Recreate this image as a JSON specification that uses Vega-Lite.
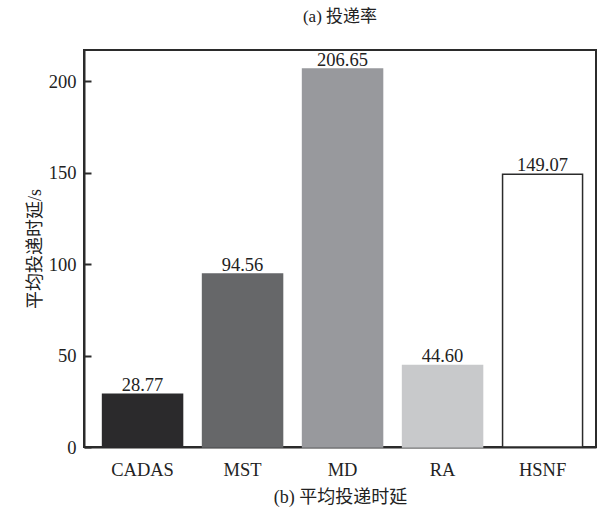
{
  "$schema": "https://vega.github.io/schema/vega-lite/v6.json",
  "autosize": {"type": "none"},
  "padding": {"left": 84, "top": 50, "right": 1, "bottom": 63},
  "width": 512,
  "height": 397,
  "background": "white",
  "title": {
    "text": "(a) 投递率",
    "font": "Liberation Serif, Noto Sans CJK SC",
    "fontSize": 17,
    "fontWeight": "normal",
    "color": "#222222",
    "anchor": "middle",
    "offset": 24
  },
  "config": {
    "view": {"stroke": "#2b2b2b", "strokeWidth": 2},
    "axis": {
      "labelFont": "Liberation Serif",
      "titleFont": "Liberation Serif, Noto Sans CJK SC",
      "labelColor": "#222222",
      "titleColor": "#222222",
      "titleFontWeight": "normal",
      "grid": false,
      "domainColor": "#2b2b2b",
      "domainWidth": 2
    }
  },
  "data": {
    "values": [
      {"method": "CADAS", "delay": 28.77},
      {"method": "MST", "delay": 94.56},
      {"method": "MD", "delay": 206.65},
      {"method": "RA", "delay": 44.60},
      {"method": "HSNF", "delay": 149.07}
    ]
  },
  "encoding": {
    "x": {
      "field": "method",
      "type": "nominal",
      "sort": ["CADAS", "MST", "MD", "RA", "HSNF"],
      "scale": {"paddingInner": 0.2, "paddingOuter": 0.16, "align": 0.58},
      "axis": {
        "title": "(b) 平均投递时延",
        "titleFontSize": 18,
        "titlePadding": 10,
        "labelFontSize": 18.5,
        "labelAngle": 0,
        "labelPadding": 13,
        "ticks": false
      }
    },
    "y": {
      "field": "delay",
      "type": "quantitative",
      "scale": {"domain": [0, 217], "nice": false},
      "axis": {
        "title": "平均投递时延/s",
        "titleFontSize": 18,
        "titlePadding": 4,
        "labelFontSize": 18.5,
        "values": [0, 50, 100, 150, 200],
        "tickSize": -7,
        "tickWidth": 2,
        "tickColor": "#2b2b2b",
        "labelPadding": 15
      }
    }
  },
  "layer": [
    {
      "mark": {"type": "bar", "strokeWidth": 1.5},
      "encoding": {
        "color": {
          "field": "method",
          "type": "nominal",
          "scale": {
            "domain": ["CADAS", "MST", "MD", "RA", "HSNF"],
            "range": ["#2b2a2c", "#666769", "#98999d", "#c8c9cb", "#ffffff"]
          },
          "legend": null
        },
        "stroke": {
          "field": "method",
          "type": "nominal",
          "scale": {
            "domain": ["CADAS", "MST", "MD", "RA", "HSNF"],
            "range": ["#2b2a2c", "#666769", "#98999d", "#c8c9cb", "#2b2b2b"]
          },
          "legend": null
        }
      }
    },
    {
      "mark": {
        "type": "text",
        "font": "Liberation Serif",
        "fontSize": 18.5,
        "color": "#222222",
        "baseline": "alphabetic",
        "dy": -3
      },
      "encoding": {
        "text": {"field": "delay", "type": "quantitative", "format": ".2f"}
      }
    }
  ]
}
